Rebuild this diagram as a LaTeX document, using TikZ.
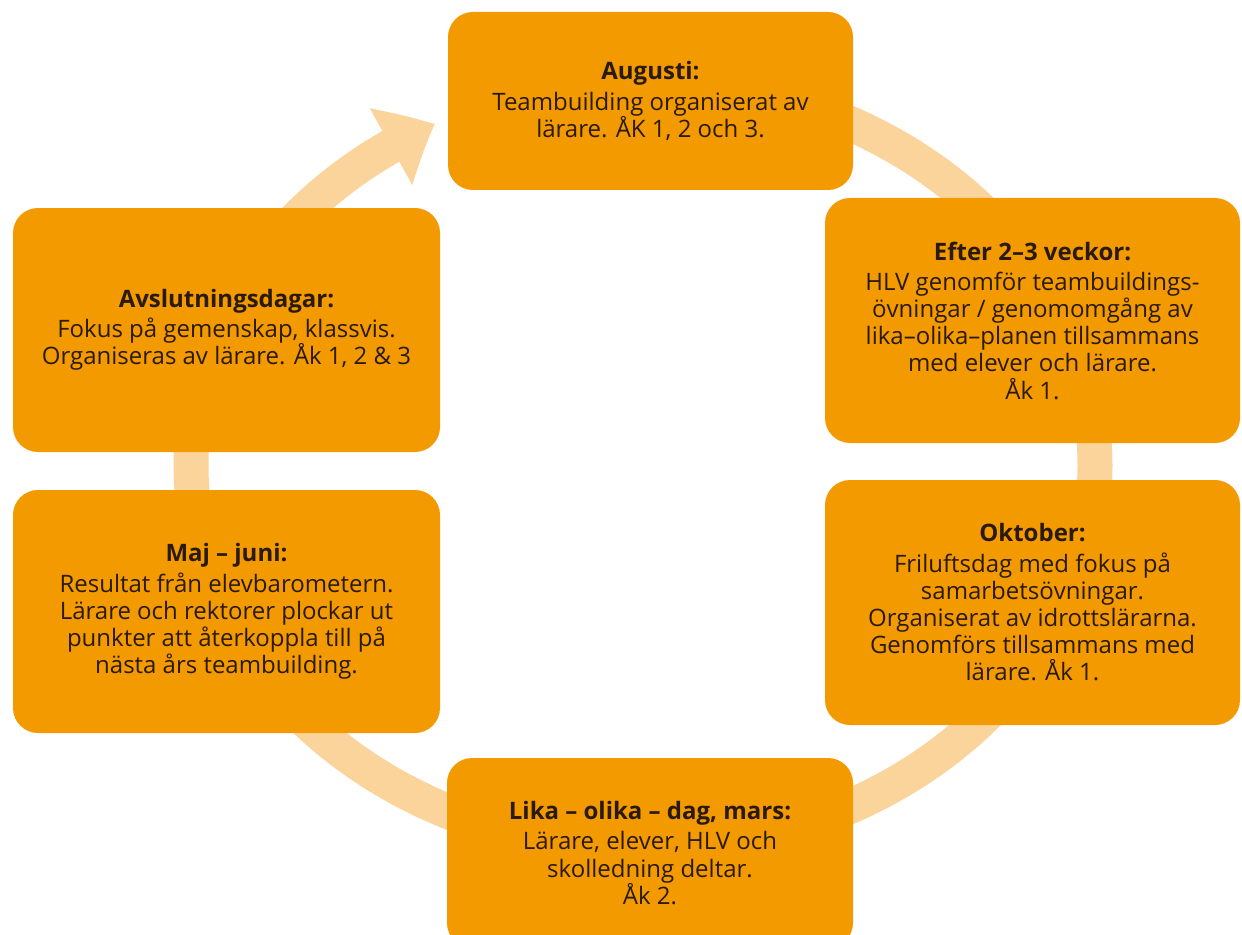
\documentclass[tikz,border=0pt]{standalone}
\usepackage{fontspec}
\setmainfont{Open Sans}
\usetikzlibrary{arrows.meta,bending}
\definecolor{boxor}{HTML}{F39A00}
\definecolor{ringor}{HTML}{FBD49C}
\definecolor{txt}{HTML}{2A1A0C}
\begin{document}
\begin{tikzpicture}[x=0.5pt,y=0.5pt,
  box/.style={fill=boxor, rounded corners=12.5pt, align=center, text=txt,
    font=\fontsize{12}{13.6}\selectfont, inner sep=0pt},
  ring/.style={draw=ringor, line width=17.5pt,
    -{Triangle[width=42pt,length=25pt,bend]}}]
\useasboundingbox (0,0) rectangle (1242,934);
\clip (0,0) rectangle (1242,934);
\fill[white] (0,0) rectangle (1242,934);
\coordinate (c) at (643,469);
\draw[ring] (c) ++(90:226pt and 192pt)
  arc[start angle=90, end angle=-242.6, x radius=226pt, y radius=192pt];
\node[box, minimum width=202.5pt, minimum height=89pt] (aug) at (650.5,833)
  {\textbf{Augusti:}\\[1.5pt]Teambuilding organiserat av\\lärare. ÅK 1, 2 och 3.};
\node[box, minimum width=207.5pt, minimum height=122.5pt] (efter) at (1032.5,613.5)
  {\textbf{Efter 2–3 veckor:}\\[1.5pt]HLV genomför teambuildings-\\övningar / genomomgång av\\lika–olika–planen tillsammans\\med elever och lärare.\\Åk 1.};
\node[box, minimum width=207.5pt, minimum height=122.5pt] (okt) at (1032.5,331.5)
  {\textbf{Oktober:}\\[1.5pt]Friluftsdag med fokus på\\samarbetsövningar.\\Organiserat av idrottslärarna.\\Genomförs tillsammans med\\lärare. Åk 1.};
\node[box, minimum width=203pt, minimum height=95pt] (lika) at (650,81)
  {\textbf{Lika – olika – dag, mars:}\\[1.5pt]Lärare, elever, HLV och\\skolledning deltar.\\Åk 2.};
\node[box, minimum width=213.5pt, minimum height=121.5pt] (maj) at (226.5,322.5)
  {\textbf{Maj – juni:}\\[1.5pt]Resultat från elevbarometern.\\Lärare och rektorer plockar ut\\punkter att återkoppla till på\\nästa års teambuilding.};
\node[box, minimum width=213.5pt, minimum height=122pt] (avs) at (226.5,604)
  {\textbf{Avslutningsdagar:}\\[1.5pt]Fokus på gemenskap, klassvis.\\Organiseras av lärare. Åk 1, 2 \& 3};
\end{tikzpicture}
\end{document}
